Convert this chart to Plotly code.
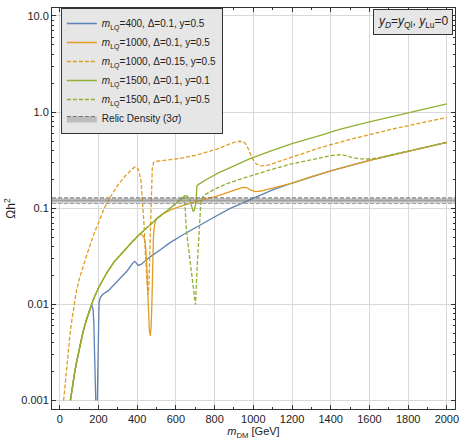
import plotly.graph_objects as go

# ---------------- data ----------------
low_m = [55, 62, 69, 78, 86, 95, 103, 120, 138, 155, 172, 200, 241, 280, 327, 370, 413]
low_om = [0.001, 0.00126, 0.00155, 0.002, 0.00245, 0.003, 0.00363, 0.00513, 0.00692, 0.0089, 0.011,
          0.0148, 0.0209, 0.0275, 0.0355, 0.0437, 0.0537]

blue_m = [55, 62, 69, 78, 86, 95, 103, 120, 138, 155, 162, 167, 172, 176, 180, 183, 186, None,
          194, 197, 200, 203, 210, 224, 250, 300, 350, 375, 387, 395, 405, 420, 465, 520, 568, 630,
          700, 790, 878, 981, 1100, 1205, 1300, 1400, 1600, 1800, 2000]
blue_om = [0.001, 0.00126, 0.00155, 0.002, 0.00245, 0.003, 0.00363, 0.00513, 0.00692, 0.0089, 0.0095,
           0.0096, 0.0088, 0.0065, 0.0035, 0.0018, 0.001, None,
           0.001, 0.003, 0.0075, 0.0104, 0.0118, 0.0128, 0.0138, 0.0175, 0.0225, 0.0265, 0.028, 0.027,
           0.0254, 0.026, 0.031, 0.037, 0.0436, 0.052, 0.062, 0.079, 0.099, 0.123, 0.155, 0.184, 0.213,
           0.245, 0.315, 0.394, 0.484]

orange_m = low_m + [425, 435, 442, 448, 453, 458, 463, 468, 472, 476, 480, 484, 490, 499, 530, 580,
                    637, 700, 760, 809, 860, 910, 945, 965, 985, 1010, 1040, 1085, 1140, 1205, 1300,
                    1400, 1600, 1800, 2000]
orange_om = low_om + [0.053, 0.05, 0.043, 0.03, 0.016, 0.008, 0.0054, 0.0047, 0.0058, 0.01, 0.025,
                      0.05, 0.068, 0.078, 0.087, 0.097, 0.107, 0.117, 0.126, 0.133, 0.143, 0.156,
                      0.165, 0.164, 0.155, 0.149, 0.151, 0.159, 0.17, 0.184, 0.213, 0.245, 0.315,
                      0.394, 0.484]

orange_d_m = [20, 30, 43, 52, 60, 69, 77, 86, 103, 130, 155, 180, 207, 230, 260, 293, 340, 370, 387,
              400, 410, 420, 428, 435, 442, 448, 455, 460, 464, 468, 473, 478, 485, 499, 560, 637,
              700, 760, 809, 860, 900, 930, 950, 965, 980, 995, 1015, 1040, 1070, 1100, 1200, 1343,
              1500, 1739, 2000]
orange_d_om = [0.001, 0.0017, 0.0033, 0.0047, 0.0063, 0.0085, 0.011, 0.0138, 0.019, 0.0288, 0.0407,
               0.0562, 0.0776, 0.1, 0.129, 0.166, 0.219, 0.251, 0.268, 0.265, 0.24, 0.19, 0.12, 0.07,
               0.035, 0.018, 0.0125, 0.015, 0.03, 0.08, 0.17, 0.26, 0.3, 0.308, 0.318, 0.334, 0.355,
               0.382, 0.41, 0.45, 0.483, 0.497, 0.49, 0.455, 0.39, 0.33, 0.29, 0.276, 0.278, 0.29,
               0.34, 0.425, 0.52, 0.68, 0.88]

green_m = low_m + [460, 499, 540, 568, 600, 625, 646, 660, 672, 682, 689, 695, 701, 705, 708, 715,
                   760, 820, 878, 980, 1085, 1200, 1343, 1446, 1600, 1800, 2000]
green_om = low_om + [0.066, 0.0767, 0.0891, 0.1, 0.112, 0.123, 0.135, 0.134, 0.122, 0.104, 0.093,
                     0.095, 0.105, 0.118, 0.17, 0.176, 0.2, 0.233, 0.263, 0.326, 0.39, 0.47, 0.57,
                     0.66, 0.79, 0.99, 1.22]

green_d_m = low_m + [460, 499, 540, 568, 600, 625, 640, 648, 654, 677, 701, 710, 720, 724, 730, 750,
                     800, 878, 981, 1085, 1200, 1343, 1400, 1446, 1480, 1515, 1550, 1590, 1640, 1700,
                     1800, 2000]
green_d_om = low_om + [0.066, 0.0767, 0.0891, 0.1, 0.112, 0.123, 0.13, 0.1, 0.06, 0.0245, 0.0099,
                       0.0245, 0.06, 0.1, 0.125, 0.138, 0.158, 0.185, 0.215, 0.25, 0.29, 0.334, 0.352,
                       0.36, 0.352, 0.335, 0.326, 0.325, 0.332, 0.355, 0.394, 0.484]

relic_center = 0.12
relic_lo = 0.1118
relic_hi = 0.128

x_ticks = [0, 200, 400, 600, 800, 1000, 1200, 1400, 1600, 1800, 2000]
y_ticks = [0.001, 0.01, 0.1, 1.0, 10.0]
y_tick_text = ["0.001", "0.01", "0.1", "1.0", "10.0"]

labels = [
    "<i>m</i><sub>LQ</sub>=400, Δ=0.1, y=0.5",
    "<i>m</i><sub>LQ</sub>=1000, Δ=0.1, y=0.5",
    "<i>m</i><sub>LQ</sub>=1000, Δ=0.15, y=0.5",
    "<i>m</i><sub>LQ</sub>=1500, Δ=0.1, y=0.1",
    "<i>m</i><sub>LQ</sub>=1500, Δ=0.1, y=0.5",
    "Relic Density (3<i>σ</i>)",
]

# ---------------- styles ----------------
BLUE = "#5E81B5"
ORANGE = "#E19C24"
GREEN = "#8FB032"
FONT = "Liberation Sans, Arial, Helvetica, sans-serif"
DASH = "4px,2px"

fig = go.Figure()

series = [
    (blue_m, blue_om, BLUE, "solid", labels[0]),
    (orange_m, orange_om, ORANGE, "solid", labels[1]),
    (orange_d_m, orange_d_om, ORANGE, DASH, labels[2]),
    (green_m, green_om, GREEN, "solid", labels[3]),
    (green_d_m, green_d_om, GREEN, DASH, labels[4]),
]
for xs, ys, col, dash, name in series:
    fig.add_trace(go.Scatter(x=xs, y=ys, mode="lines", name=name,
                             line=dict(color=col, width=1.3, dash=dash),
                             connectgaps=False, cliponaxis=True))

# relic density band (full width of the plot)
fig.add_hrect(y0=relic_lo, y1=relic_hi, fillcolor="rgba(140,140,140,0.38)", line_width=0, layer="below")
fig.add_hline(y=relic_center, line=dict(color="rgba(120,120,120,0.55)", width=2))
fig.add_hline(y=relic_hi, line=dict(color="#666666", width=1, dash=DASH))
fig.add_hline(y=relic_lo, line=dict(color="#a0a0a0", width=1, dash=DASH))
# legend entry for the band
fig.add_trace(go.Scatter(x=[None], y=[None], mode="lines", name=labels[5],
                         fill="toself", fillcolor="rgba(140,140,140,0.45)",
                         line=dict(color="#777777", width=1, dash=DASH)))

fig.add_annotation(
    text="<i>y</i><sub><i>D</i></sub>=<i>y</i><sub>Ql</sub>, <i>y</i><sub>Lu</sub>=0",
    xref="paper", yref="paper", x=0.994, y=0.997, xanchor="right", yanchor="top",
    showarrow=False, bgcolor="#e6e6e6", bordercolor="#333333", borderwidth=1, borderpad=4,
    font=dict(family=FONT, size=12, color="#222222"),
)

minor_y = [k * 10 ** e for e in range(-3, 1) for k in range(2, 10)]

fig.update_layout(
    width=460, height=441,
    margin=dict(l=52, r=5, t=8, b=32),
    paper_bgcolor="white", plot_bgcolor="white",
    font=dict(family=FONT, size=11, color="#222222"),
    showlegend=True,
    legend=dict(x=0.022, y=1.0, xanchor="left", yanchor="top",
                bgcolor="#e6e6e6", bordercolor="#333333", borderwidth=1,
                font=dict(family=FONT, size=10, color="#222222"),
                tracegroupgap=0),
    xaxis=dict(range=[-40, 2042], tickmode="array", tickvals=x_ticks,
               ticks="inside", ticklen=4, tickcolor="#333", showline=True, linecolor="#333",
               linewidth=1, mirror="ticks", showgrid=True, gridcolor="#d9d9d9", gridwidth=1,
               zeroline=False, tickfont=dict(size=11, color="#222"),
               minor=dict(ticks="inside", ticklen=2, dtick=100, tick0=0, tickcolor="#333", showgrid=False),
               title=dict(text="<i>m</i><sub>DM</sub> [GeV]", font=dict(size=11, color="#222"), standoff=2),
               automargin=False),
    yaxis=dict(type="log", range=[-3.089, 1.083], tickmode="array", tickvals=y_ticks,
               ticktext=y_tick_text, ticks="inside", ticklen=4, tickcolor="#333", showline=True,
               linecolor="#333", linewidth=1, mirror="ticks", showgrid=True, gridcolor="#d9d9d9",
               gridwidth=1, zeroline=False, tickfont=dict(size=11, color="#222"),
               minor=dict(ticks="inside", ticklen=2, tickmode="array", tickvals=minor_y,
                          tickcolor="#333", showgrid=False),
               title=dict(text="Ωh<sup>2</sup>", font=dict(size=12, color="#222"), standoff=3),
               automargin=False),
)

fig.write_html("out.html", include_plotlyjs=True, config={"displayModeBar": False})
